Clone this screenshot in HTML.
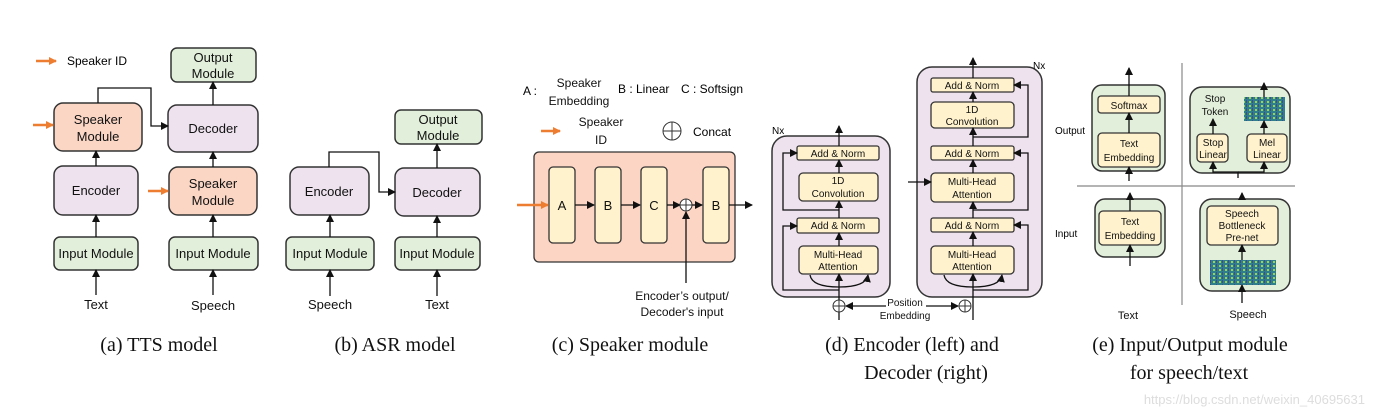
<!DOCTYPE html>
<html><head><meta charset="utf-8"><style>
body{margin:0;background:#fff}
svg{display:block;font-family:"Liberation Sans",sans-serif}
.s{font-size:13px;fill:#111;text-anchor:middle}
.t{font-size:10px;fill:#111;text-anchor:middle}
.cap{font-family:"Liberation Serif",serif;font-size:20px;fill:#111;text-anchor:middle}
.g{fill:#e2efda;stroke:#333;stroke-width:1.5}
.p{fill:#ede2ee;stroke:#333;stroke-width:1.5}
.o{fill:#fbd6c5;stroke:#333;stroke-width:1.5}
.y{fill:#fff2cc;stroke:#333;stroke-width:1.3}
.l{stroke:#111;stroke-width:1.3;fill:none}
.or{stroke:#ed7d31;stroke-width:2.5;fill:none}
</style></head><body>
<svg width="1375" height="416" viewBox="0 0 1375 416">
<defs>
<marker id="a" markerWidth="8" markerHeight="8" refX="7" refY="4" orient="auto" markerUnits="userSpaceOnUse"><path d="M0,0L8,4L0,8z" fill="#111"/></marker>
<marker id="b" markerWidth="8" markerHeight="8" refX="7" refY="4" orient="auto" markerUnits="userSpaceOnUse"><path d="M0,0L8,4L0,8z" fill="#ed7d31"/></marker>
<pattern id="spec" width="6" height="4" patternUnits="userSpaceOnUse"><rect width="6" height="4" fill="#2f7f8a"/><rect x="1" y="1" width="2" height="2" fill="#9bd35a"/><rect x="4" y="0" width="1" height="3" fill="#3b4c9a"/></pattern>
</defs>
<!-- (a) -->
<line x1="36" y1="61" x2="56" y2="61" class="or" marker-end="url(#b)"/>
<text x="67" y="65" style="font-size:12px">Speaker ID</text>
<rect x="171" y="48" width="85" height="34" rx="6" class="g"/><text x="213" y="62" class="s">Output</text><text x="213" y="78" class="s">Module</text>
<rect x="54" y="103" width="88" height="48" rx="9" class="o"/><text x="98" y="124" class="s">Speaker</text><text x="98" y="141" class="s">Module</text>
<rect x="168" y="105" width="90" height="47" rx="9" class="p"/><text x="213" y="133" class="s">Decoder</text>
<rect x="54" y="166" width="84" height="49" rx="9" class="p"/><text x="96" y="195" class="s">Encoder</text>
<rect x="169" y="167" width="88" height="48" rx="9" class="o"/><text x="213" y="188" class="s">Speaker</text><text x="213" y="205" class="s">Module</text>
<rect x="54" y="237" width="84" height="33" rx="6" class="g"/><text x="96" y="258" class="s">Input Module</text>
<rect x="169" y="237" width="89" height="33" rx="6" class="g"/><text x="213" y="258" class="s">Input Module</text>
<text x="96" y="309" class="s">Text</text><text x="213" y="310" class="s">Speech</text>
<path d="M96,295V270" class="l" marker-end="url(#a)"/>
<path d="M96,237V215" class="l" marker-end="url(#a)"/>
<path d="M96,166V151" class="l" marker-end="url(#a)"/>
<path d="M213,295V270" class="l" marker-end="url(#a)"/>
<path d="M213,237V215" class="l" marker-end="url(#a)"/>
<path d="M213,167V152" class="l" marker-end="url(#a)"/>
<path d="M213,105V82" class="l" marker-end="url(#a)"/>
<path d="M98,103V88H151V126H168" class="l" marker-end="url(#a)"/>
<line x1="33" y1="125" x2="53" y2="125" class="or" marker-end="url(#b)"/>
<line x1="148" y1="191" x2="168" y2="191" class="or" marker-end="url(#b)"/>
<!-- (b) -->
<rect x="290" y="167" width="79" height="48" rx="9" class="p"/><text x="329" y="196" class="s">Encoder</text>
<rect x="395" y="168" width="85" height="48" rx="9" class="p"/><text x="437" y="197" class="s">Decoder</text>
<rect x="395" y="110" width="87" height="34" rx="6" class="g"/><text x="438" y="124" class="s">Output</text><text x="438" y="140" class="s">Module</text>
<rect x="286" y="237" width="88" height="33" rx="6" class="g"/><text x="330" y="258" class="s">Input Module</text>
<rect x="395" y="237" width="85" height="33" rx="6" class="g"/><text x="437" y="258" class="s">Input Module</text>
<text x="330" y="309" class="s">Speech</text><text x="437" y="309" class="s">Text</text>
<path d="M330,296V270" class="l" marker-end="url(#a)"/>
<path d="M330,237V215" class="l" marker-end="url(#a)"/>
<path d="M437,296V270" class="l" marker-end="url(#a)"/>
<path d="M437,237V216" class="l" marker-end="url(#a)"/>
<path d="M437,168V144" class="l" marker-end="url(#a)"/>
<path d="M329,167V152H379V192H395" class="l" marker-end="url(#a)"/>
<!-- (c) -->
<text x="523" y="95" style="font-size:12px">A :</text>
<text x="579" y="87" class="s" style="font-size:12px">Speaker</text><text x="579" y="105" class="s" style="font-size:12px">Embedding</text>
<text x="618" y="93" style="font-size:12px">B : Linear</text>
<text x="681" y="93" style="font-size:12px">C : Softsign</text>
<line x1="541" y1="131" x2="560" y2="131" class="or" marker-end="url(#b)"/>
<text x="601" y="126" class="s" style="font-size:12px">Speaker</text><text x="601" y="144" class="s" style="font-size:12px">ID</text>
<circle cx="672" cy="131" r="9" fill="#fff" stroke="#333"/><path d="M663,131H681M672,122V140" stroke="#333"/>
<text x="693" y="136" style="font-size:12px">Concat</text>
<rect x="534" y="152" width="201" height="110" rx="5" fill="#fcd5c4" stroke="#333" stroke-width="1.3"/>
<rect x="549" y="167" width="26" height="76" rx="4" class="y"/><text x="562" y="210" class="s">A</text>
<rect x="595" y="167" width="26" height="76" rx="4" class="y"/><text x="608" y="210" class="s">B</text>
<rect x="641" y="167" width="26" height="76" rx="4" class="y"/><text x="654" y="210" class="s">C</text>
<rect x="703" y="167" width="26" height="76" rx="4" class="y"/><text x="716" y="210" class="s">B</text>
<line x1="517" y1="205" x2="548" y2="205" class="or" marker-end="url(#b)"/>
<path d="M575,205H594" class="l" marker-end="url(#a)"/>
<path d="M621,205H640" class="l" marker-end="url(#a)"/>
<path d="M667,205H680" class="l" marker-end="url(#a)"/>
<path d="M692,205H702" class="l" marker-end="url(#a)"/>
<path d="M729,205H752" class="l" marker-end="url(#a)"/>
<circle cx="686" cy="205" r="6" fill="#fff" stroke="#333"/><path d="M680,205H692M686,199V211" stroke="#333"/>
<path d="M686,283V212" class="l" marker-end="url(#a)"/>
<text x="682" y="300" class="s" style="font-size:12px">Encoder’s output/</text>
<text x="682" y="316" class="s" style="font-size:12px">Decoder's input</text>
<!-- (d) encoder -->
<rect x="772" y="136" width="118" height="161" rx="15" class="p"/>
<text x="772" y="134" style="font-size:10px">Nx</text>
<rect x="797" y="146" width="82" height="14" rx="2" class="y"/><text x="838" y="157" class="t">Add &amp; Norm</text>
<rect x="799" y="173" width="79" height="28" rx="4" class="y"/><text x="838" y="184" class="t">1D</text><text x="838" y="197" class="t">Convolution</text>
<rect x="797" y="218" width="82" height="15" rx="2" class="y"/><text x="838" y="229" class="t">Add &amp; Norm</text>
<rect x="799" y="246" width="79" height="28" rx="4" class="y"/><text x="838" y="258" class="t">Multi-Head</text><text x="838" y="270" class="t">Attention</text>
<path d="M839,146V126" class="l" marker-end="url(#a)"/>
<path d="M839,173V160" class="l" marker-end="url(#a)"/>
<path d="M839,218V201" class="l" marker-end="url(#a)"/>
<path d="M839,246V233" class="l" marker-end="url(#a)"/>
<path d="M839,320V274" class="l" marker-end="url(#a)"/>
<path d="M839,210H783V153H797" class="l" marker-end="url(#a)"/>
<path d="M839,290H783V226H797" class="l" marker-end="url(#a)"/>
<path d="M839,287Q812,287 810,275M839,287Q866,287 868,275" class="l" marker-end="url(#a)"/>
<!-- decoder -->
<rect x="917" y="67" width="125" height="230" rx="15" class="p"/>
<text x="1033" y="69" style="font-size:10px">Nx</text>
<rect x="931" y="78" width="83" height="14" rx="2" class="y"/><text x="972" y="89" class="t">Add &amp; Norm</text>
<rect x="931" y="102" width="83" height="26" rx="4" class="y"/><text x="972" y="113" class="t">1D</text><text x="972" y="125" class="t">Convolution</text>
<rect x="931" y="146" width="83" height="14" rx="2" class="y"/><text x="972" y="157" class="t">Add &amp; Norm</text>
<rect x="931" y="173" width="83" height="29" rx="4" class="y"/><text x="972" y="185" class="t">Multi-Head</text><text x="972" y="198" class="t">Attention</text>
<rect x="931" y="218" width="83" height="14" rx="2" class="y"/><text x="972" y="229" class="t">Add &amp; Norm</text>
<rect x="931" y="246" width="83" height="28" rx="4" class="y"/><text x="972" y="258" class="t">Multi-Head</text><text x="972" y="270" class="t">Attention</text>
<path d="M973,78V58" class="l" marker-end="url(#a)"/>
<path d="M973,102V92" class="l" marker-end="url(#a)"/>
<path d="M973,146V128" class="l" marker-end="url(#a)"/>
<path d="M973,173V160" class="l" marker-end="url(#a)"/>
<path d="M973,218V202" class="l" marker-end="url(#a)"/>
<path d="M973,246V232" class="l" marker-end="url(#a)"/>
<path d="M973,320V274" class="l" marker-end="url(#a)"/>
<path d="M973,137H1028V85H1014" class="l" marker-end="url(#a)"/>
<path d="M973,210H1028V153H1014" class="l" marker-end="url(#a)"/>
<path d="M973,290H1028V225H1014" class="l" marker-end="url(#a)"/>
<path d="M973,287Q946,287 944,275M973,287Q1000,287 1002,275" class="l" marker-end="url(#a)"/>
<path d="M908,182H931" class="l" marker-end="url(#a)"/>
<circle cx="839" cy="306" r="6" fill="#fff" stroke="#333"/><path d="M833,306H845M839,300V312" stroke="#333"/>
<circle cx="965" cy="306" r="6" fill="#fff" stroke="#333"/><path d="M959,306H971M965,300V312" stroke="#333"/>
<path d="M886,306H846" class="l" marker-end="url(#a)"/>
<path d="M926,306H958" class="l" marker-end="url(#a)"/>
<text x="905" y="306" class="t">Position</text><text x="905" y="319" class="t">Embedding</text>
<!-- (e) -->
<path d="M1182,63V305M1077,186H1295" stroke="#888" stroke-width="1.2"/>
<text x="1055" y="134" style="font-size:10px">Output</text>
<text x="1055" y="237" style="font-size:10px">Input</text>
<rect x="1092" y="85" width="73" height="86" rx="10" class="g"/>
<rect x="1098" y="96" width="62" height="17" rx="3" class="y"/><text x="1129" y="109" class="t">Softmax</text>
<rect x="1098" y="133" width="62" height="34" rx="4" class="y"/><text x="1129" y="147" class="t">Text</text><text x="1129" y="161" class="t">Embedding</text>
<path d="M1129,96V68" class="l" marker-end="url(#a)"/>
<path d="M1129,133V113" class="l" marker-end="url(#a)"/>
<path d="M1129,181V167" class="l" marker-end="url(#a)"/>
<rect x="1190" y="87" width="100" height="86" rx="12" class="g"/>
<text x="1215" y="102" class="t">Stop</text><text x="1215" y="115" class="t">Token</text>
<rect x="1244" y="97" width="41" height="24" fill="url(#spec)"/>
<rect x="1197" y="134" width="31" height="28" rx="4" class="y"/><text x="1213" y="146" class="t">Stop</text><text x="1213" y="158" class="t">Linear</text>
<rect x="1247" y="134" width="40" height="28" rx="4" class="y"/><text x="1267" y="146" class="t">Mel</text><text x="1267" y="158" class="t">Linear</text>
<path d="M1213,134V119" class="l" marker-end="url(#a)"/>
<path d="M1264,134V121" class="l" marker-end="url(#a)"/>
<path d="M1264,97V83" class="l" marker-end="url(#a)"/>
<path d="M1238,178V172H1213V162" class="l" marker-end="url(#a)"/>
<path d="M1238,172H1264V162" class="l" marker-end="url(#a)"/>
<rect x="1095" y="199" width="70" height="58" rx="10" class="g"/>
<rect x="1099" y="211" width="62" height="34" rx="4" class="y"/><text x="1130" y="225" class="t">Text</text><text x="1130" y="239" class="t">Embedding</text>
<path d="M1130,211V193" class="l" marker-end="url(#a)"/>
<path d="M1130,266V245" class="l" marker-end="url(#a)"/>
<rect x="1200" y="199" width="90" height="92" rx="12" class="g"/>
<rect x="1207" y="206" width="71" height="39" rx="4" class="y"/><text x="1242" y="217" class="t">Speech</text><text x="1242" y="229" class="t">Bottleneck</text><text x="1242" y="241" class="t">Pre-net</text>
<rect x="1210" y="260" width="66" height="25" fill="url(#spec)"/>
<path d="M1242,199V193" class="l" marker-end="url(#a)"/>
<path d="M1242,260V245" class="l" marker-end="url(#a)"/>
<path d="M1242,303V285" class="l" marker-end="url(#a)"/>
<text x="1128" y="319" class="t" style="font-size:11px">Text</text>
<text x="1248" y="318" class="t" style="font-size:11px">Speech</text>
<!-- captions -->
<text x="159" y="351" class="cap">(a) TTS model</text>
<text x="395" y="351" class="cap">(b) ASR model</text>
<text x="630" y="351" class="cap">(c) Speaker module</text>
<text x="912" y="351" class="cap">(d) Encoder (left) and</text>
<text x="926" y="379" class="cap">Decoder (right)</text>
<text x="1190" y="351" class="cap">(e) Input/Output module</text>
<text x="1189" y="379" class="cap">for speech/text</text>
<text x="1365" y="404" style="font-size:13px;fill:#ddd;text-anchor:end">https://blog.csdn.net/weixin_40695631</text>
</svg>
</body></html>
